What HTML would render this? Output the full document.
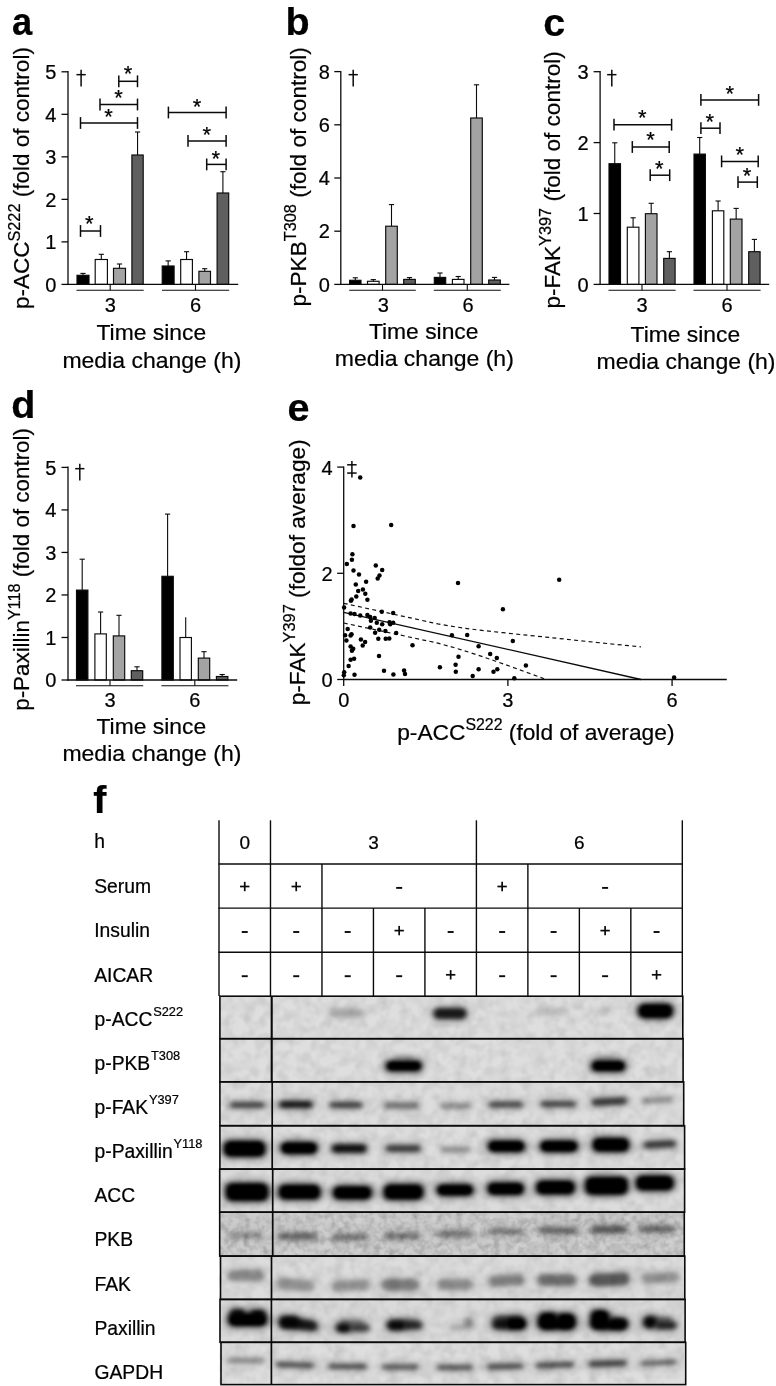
<!DOCTYPE html>
<html><head><meta charset="utf-8"><title>figure</title>
<style>html,body{margin:0;padding:0;background:#fff;}svg{display:block;will-change:transform;}text{font-family:"Liberation Sans",sans-serif;fill:#000;stroke:#000;stroke-width:0.22px;}</style>
</head><body>
<svg width="776" height="1386" viewBox="0 0 776 1386">
<defs>
<filter id="b1" x="-30%" y="-100%" width="160%" height="300%"><feGaussianBlur stdDeviation="1.8 1.5"/></filter>
<filter id="bc" x="-40%" y="-150%" width="180%" height="400%"><feGaussianBlur stdDeviation="2.6 2.0"/></filter>
<filter id="bh" x="-50%" y="-200%" width="200%" height="500%"><feGaussianBlur stdDeviation="4.2 3.6"/></filter>
<filter id="noise" x="0" y="0" width="100%" height="100%"><feTurbulence type="fractalNoise" baseFrequency="0.09" numOctaves="2" seed="7" result="n"/><feColorMatrix in="n" type="matrix" values="0 0 0 0 0.45  0 0 0 0 0.45  0 0 0 0 0.45  0.55 0.55 0.55 0 -0.68"/></filter>
<filter id="noise2" x="0" y="0" width="100%" height="100%"><feTurbulence type="fractalNoise" baseFrequency="0.16" numOctaves="2" seed="11" result="n"/><feColorMatrix in="n" type="matrix" values="0 0 0 0 0.3  0 0 0 0 0.3  0 0 0 0 0.3  0.7 0.7 0.7 0 -0.88"/></filter>
</defs>
<rect width="776" height="1386" fill="#fff"/>
<text x="12.00" y="35.30" font-size="39.5" text-anchor="start" font-weight="bold" textLength="20.2" lengthAdjust="spacingAndGlyphs">a</text>
<text x="285.50" y="35.30" font-size="39.5" text-anchor="start" font-weight="bold" >b</text>
<text x="543.30" y="35.50" font-size="39.5" text-anchor="start" font-weight="bold" >c</text>
<text x="11.20" y="417.80" font-size="39.5" text-anchor="start" font-weight="bold" >d</text>
<text x="287.50" y="420.60" font-size="39.5" text-anchor="start" font-weight="bold" >e</text>
<text x="93.20" y="812.50" font-size="39.5" text-anchor="start" font-weight="bold" >f</text>
<line x1="83.00" y1="273.40" x2="83.00" y2="275.30" stroke="#0a0a0a" stroke-width="1.1" />
<line x1="80.40" y1="273.40" x2="85.60" y2="273.40" stroke="#0a0a0a" stroke-width="1.1" />
<rect x="77.00" y="275.30" width="12.00" height="9.10" fill="#000" stroke="#0a0a0a" stroke-width="1.15"/>
<line x1="101.30" y1="254.30" x2="101.30" y2="259.50" stroke="#0a0a0a" stroke-width="1.1" />
<line x1="98.70" y1="254.30" x2="103.90" y2="254.30" stroke="#0a0a0a" stroke-width="1.1" />
<rect x="95.20" y="259.50" width="12.20" height="24.90" fill="#fff" stroke="#0a0a0a" stroke-width="1.15"/>
<line x1="119.50" y1="264.00" x2="119.50" y2="268.30" stroke="#0a0a0a" stroke-width="1.1" />
<line x1="116.90" y1="264.00" x2="122.10" y2="264.00" stroke="#0a0a0a" stroke-width="1.1" />
<rect x="113.50" y="268.30" width="12.00" height="16.10" fill="#a3a3a3" stroke="#0a0a0a" stroke-width="1.15"/>
<line x1="137.55" y1="132.00" x2="137.55" y2="155.00" stroke="#0a0a0a" stroke-width="1.1" />
<line x1="134.95" y1="132.00" x2="140.15" y2="132.00" stroke="#0a0a0a" stroke-width="1.1" />
<rect x="131.90" y="155.00" width="11.30" height="129.40" fill="#5f5f5f" stroke="#0a0a0a" stroke-width="1.15"/>
<line x1="168.15" y1="260.90" x2="168.15" y2="266.00" stroke="#0a0a0a" stroke-width="1.1" />
<line x1="165.55" y1="260.90" x2="170.75" y2="260.90" stroke="#0a0a0a" stroke-width="1.1" />
<rect x="162.20" y="266.00" width="11.90" height="18.40" fill="#000" stroke="#0a0a0a" stroke-width="1.15"/>
<line x1="186.55" y1="251.70" x2="186.55" y2="259.50" stroke="#0a0a0a" stroke-width="1.1" />
<line x1="183.95" y1="251.70" x2="189.15" y2="251.70" stroke="#0a0a0a" stroke-width="1.1" />
<rect x="180.70" y="259.50" width="11.70" height="24.90" fill="#fff" stroke="#0a0a0a" stroke-width="1.15"/>
<line x1="204.70" y1="268.70" x2="204.70" y2="271.30" stroke="#0a0a0a" stroke-width="1.1" />
<line x1="202.10" y1="268.70" x2="207.30" y2="268.70" stroke="#0a0a0a" stroke-width="1.1" />
<rect x="198.90" y="271.30" width="11.60" height="13.10" fill="#a3a3a3" stroke="#0a0a0a" stroke-width="1.15"/>
<line x1="222.90" y1="171.70" x2="222.90" y2="193.00" stroke="#0a0a0a" stroke-width="1.1" />
<line x1="220.30" y1="171.70" x2="225.50" y2="171.70" stroke="#0a0a0a" stroke-width="1.1" />
<rect x="217.10" y="193.00" width="11.60" height="91.40" fill="#5f5f5f" stroke="#0a0a0a" stroke-width="1.15"/>
<line x1="68.00" y1="71.10" x2="68.00" y2="285.10" stroke="#0a0a0a" stroke-width="1.3" />
<line x1="67.35" y1="284.40" x2="238.20" y2="284.40" stroke="#0a0a0a" stroke-width="1.3" />
<line x1="61.50" y1="284.40" x2="68.00" y2="284.40" stroke="#0a0a0a" stroke-width="1.3" />
<text x="56.40" y="291.60" font-size="20" text-anchor="end" font-weight="normal" >0</text>
<line x1="61.50" y1="241.88" x2="68.00" y2="241.88" stroke="#0a0a0a" stroke-width="1.3" />
<text x="56.40" y="249.08" font-size="20" text-anchor="end" font-weight="normal" >1</text>
<line x1="61.50" y1="199.36" x2="68.00" y2="199.36" stroke="#0a0a0a" stroke-width="1.3" />
<text x="56.40" y="206.56" font-size="20" text-anchor="end" font-weight="normal" >2</text>
<line x1="61.50" y1="156.84" x2="68.00" y2="156.84" stroke="#0a0a0a" stroke-width="1.3" />
<text x="56.40" y="164.04" font-size="20" text-anchor="end" font-weight="normal" >3</text>
<line x1="61.50" y1="114.32" x2="68.00" y2="114.32" stroke="#0a0a0a" stroke-width="1.3" />
<text x="56.40" y="121.52" font-size="20" text-anchor="end" font-weight="normal" >4</text>
<line x1="61.50" y1="71.80" x2="68.00" y2="71.80" stroke="#0a0a0a" stroke-width="1.3" />
<text x="56.40" y="79.00" font-size="20" text-anchor="end" font-weight="normal" >5</text>
<line x1="76.50" y1="290.20" x2="143.70" y2="290.20" stroke="#0a0a0a" stroke-width="1.1" />
<line x1="110.20" y1="284.40" x2="110.20" y2="290.20" stroke="#0a0a0a" stroke-width="1.1" />
<text x="110.20" y="311.60" font-size="20" text-anchor="middle" font-weight="normal" >3</text>
<line x1="162.00" y1="290.20" x2="229.20" y2="290.20" stroke="#0a0a0a" stroke-width="1.1" />
<line x1="195.50" y1="284.40" x2="195.50" y2="290.20" stroke="#0a0a0a" stroke-width="1.1" />
<text x="195.50" y="311.60" font-size="20" text-anchor="middle" font-weight="normal" >6</text>
<text x="151.30" y="340.30" font-size="22.4" text-anchor="middle" font-weight="normal" textLength="109.6" lengthAdjust="spacingAndGlyphs">Time since</text>
<text x="151.90" y="367.60" font-size="22.4" text-anchor="middle" font-weight="normal" textLength="179" lengthAdjust="spacingAndGlyphs">media change (h)</text>
<line x1="81.10" y1="69.80" x2="81.10" y2="86.60" stroke="#0a0a0a" stroke-width="1.5" />
<line x1="76.45" y1="74.67" x2="85.75" y2="74.67" stroke="#0a0a0a" stroke-width="1.5" />
<line x1="118.80" y1="81.30" x2="137.50" y2="81.30" stroke="#0a0a0a" stroke-width="1.5" />
<line x1="118.80" y1="75.40" x2="118.80" y2="87.20" stroke="#0a0a0a" stroke-width="1.5" />
<line x1="137.50" y1="75.40" x2="137.50" y2="87.20" stroke="#0a0a0a" stroke-width="1.5" />
<text x="128.10" y="81.36" font-size="22" text-anchor="middle" font-weight="normal" >*</text>
<line x1="100.00" y1="104.50" x2="137.50" y2="104.50" stroke="#0a0a0a" stroke-width="1.5" />
<line x1="100.00" y1="98.60" x2="100.00" y2="110.40" stroke="#0a0a0a" stroke-width="1.5" />
<line x1="137.50" y1="98.60" x2="137.50" y2="110.40" stroke="#0a0a0a" stroke-width="1.5" />
<text x="118.60" y="105.36" font-size="22" text-anchor="middle" font-weight="normal" >*</text>
<line x1="80.50" y1="123.00" x2="137.50" y2="123.00" stroke="#0a0a0a" stroke-width="1.5" />
<line x1="80.50" y1="117.10" x2="80.50" y2="128.90" stroke="#0a0a0a" stroke-width="1.5" />
<line x1="137.50" y1="117.10" x2="137.50" y2="128.90" stroke="#0a0a0a" stroke-width="1.5" />
<text x="108.60" y="124.16" font-size="22" text-anchor="middle" font-weight="normal" >*</text>
<line x1="80.50" y1="231.00" x2="100.50" y2="231.00" stroke="#0a0a0a" stroke-width="1.5" />
<line x1="80.50" y1="225.10" x2="80.50" y2="236.90" stroke="#0a0a0a" stroke-width="1.5" />
<line x1="100.50" y1="225.10" x2="100.50" y2="236.90" stroke="#0a0a0a" stroke-width="1.5" />
<text x="89.30" y="230.86" font-size="22" text-anchor="middle" font-weight="normal" >*</text>
<line x1="168.40" y1="112.50" x2="226.10" y2="112.50" stroke="#0a0a0a" stroke-width="1.5" />
<line x1="168.40" y1="106.60" x2="168.40" y2="118.40" stroke="#0a0a0a" stroke-width="1.5" />
<line x1="226.10" y1="106.60" x2="226.10" y2="118.40" stroke="#0a0a0a" stroke-width="1.5" />
<text x="197.00" y="113.76" font-size="22" text-anchor="middle" font-weight="normal" >*</text>
<line x1="188.00" y1="140.90" x2="226.10" y2="140.90" stroke="#0a0a0a" stroke-width="1.5" />
<line x1="188.00" y1="135.00" x2="188.00" y2="146.80" stroke="#0a0a0a" stroke-width="1.5" />
<line x1="226.10" y1="135.00" x2="226.10" y2="146.80" stroke="#0a0a0a" stroke-width="1.5" />
<text x="206.80" y="142.36" font-size="22" text-anchor="middle" font-weight="normal" >*</text>
<line x1="206.70" y1="164.40" x2="226.10" y2="164.40" stroke="#0a0a0a" stroke-width="1.5" />
<line x1="206.70" y1="158.50" x2="206.70" y2="170.30" stroke="#0a0a0a" stroke-width="1.5" />
<line x1="226.10" y1="158.50" x2="226.10" y2="170.30" stroke="#0a0a0a" stroke-width="1.5" />
<text x="215.80" y="165.76" font-size="22" text-anchor="middle" font-weight="normal" >*</text>
<text transform="translate(28.90,309.10) rotate(-90)" font-size="22.4" text-anchor="start" textLength="262.0" lengthAdjust="spacingAndGlyphs">p-ACC<tspan font-size="16.2" dy="-9.4">S222</tspan><tspan dy="9.4"> (fold of control)</tspan></text>
<line x1="355.30" y1="277.80" x2="355.30" y2="280.30" stroke="#0a0a0a" stroke-width="1.1" />
<line x1="352.70" y1="277.80" x2="357.90" y2="277.80" stroke="#0a0a0a" stroke-width="1.1" />
<rect x="349.60" y="280.30" width="11.40" height="4.10" fill="#000" stroke="#0a0a0a" stroke-width="1.15"/>
<line x1="373.30" y1="279.60" x2="373.30" y2="281.30" stroke="#0a0a0a" stroke-width="1.1" />
<line x1="370.70" y1="279.60" x2="375.90" y2="279.60" stroke="#0a0a0a" stroke-width="1.1" />
<rect x="367.50" y="281.30" width="11.60" height="3.10" fill="#fff" stroke="#0a0a0a" stroke-width="1.15"/>
<line x1="391.50" y1="204.60" x2="391.50" y2="226.20" stroke="#0a0a0a" stroke-width="1.1" />
<line x1="388.90" y1="204.60" x2="394.10" y2="204.60" stroke="#0a0a0a" stroke-width="1.1" />
<rect x="385.70" y="226.20" width="11.60" height="58.20" fill="#a3a3a3" stroke="#0a0a0a" stroke-width="1.15"/>
<line x1="409.50" y1="277.60" x2="409.50" y2="279.40" stroke="#0a0a0a" stroke-width="1.1" />
<line x1="406.90" y1="277.60" x2="412.10" y2="277.60" stroke="#0a0a0a" stroke-width="1.1" />
<rect x="403.70" y="279.40" width="11.60" height="5.00" fill="#5f5f5f" stroke="#0a0a0a" stroke-width="1.15"/>
<line x1="440.00" y1="273.00" x2="440.00" y2="277.40" stroke="#0a0a0a" stroke-width="1.1" />
<line x1="437.40" y1="273.00" x2="442.60" y2="273.00" stroke="#0a0a0a" stroke-width="1.1" />
<rect x="434.30" y="277.40" width="11.40" height="7.00" fill="#000" stroke="#0a0a0a" stroke-width="1.15"/>
<line x1="458.20" y1="276.50" x2="458.20" y2="279.40" stroke="#0a0a0a" stroke-width="1.1" />
<line x1="455.60" y1="276.50" x2="460.80" y2="276.50" stroke="#0a0a0a" stroke-width="1.1" />
<rect x="452.40" y="279.40" width="11.60" height="5.00" fill="#fff" stroke="#0a0a0a" stroke-width="1.15"/>
<line x1="476.50" y1="84.80" x2="476.50" y2="118.00" stroke="#0a0a0a" stroke-width="1.1" />
<line x1="473.90" y1="84.80" x2="479.10" y2="84.80" stroke="#0a0a0a" stroke-width="1.1" />
<rect x="470.70" y="118.00" width="11.60" height="166.40" fill="#a3a3a3" stroke="#0a0a0a" stroke-width="1.15"/>
<line x1="494.50" y1="277.40" x2="494.50" y2="280.00" stroke="#0a0a0a" stroke-width="1.1" />
<line x1="491.90" y1="277.40" x2="497.10" y2="277.40" stroke="#0a0a0a" stroke-width="1.1" />
<rect x="488.70" y="280.00" width="11.60" height="4.40" fill="#5f5f5f" stroke="#0a0a0a" stroke-width="1.15"/>
<line x1="340.80" y1="71.00" x2="340.80" y2="285.10" stroke="#0a0a0a" stroke-width="1.3" />
<line x1="340.15" y1="284.40" x2="509.40" y2="284.40" stroke="#0a0a0a" stroke-width="1.3" />
<line x1="334.30" y1="284.40" x2="340.80" y2="284.40" stroke="#0a0a0a" stroke-width="1.3" />
<text x="329.90" y="291.60" font-size="20" text-anchor="end" font-weight="normal" >0</text>
<line x1="334.30" y1="231.20" x2="340.80" y2="231.20" stroke="#0a0a0a" stroke-width="1.3" />
<text x="329.90" y="238.40" font-size="20" text-anchor="end" font-weight="normal" >2</text>
<line x1="334.30" y1="178.00" x2="340.80" y2="178.00" stroke="#0a0a0a" stroke-width="1.3" />
<text x="329.90" y="185.20" font-size="20" text-anchor="end" font-weight="normal" >4</text>
<line x1="334.30" y1="124.80" x2="340.80" y2="124.80" stroke="#0a0a0a" stroke-width="1.3" />
<text x="329.90" y="132.00" font-size="20" text-anchor="end" font-weight="normal" >6</text>
<line x1="334.30" y1="71.60" x2="340.80" y2="71.60" stroke="#0a0a0a" stroke-width="1.3" />
<text x="329.90" y="78.80" font-size="20" text-anchor="end" font-weight="normal" >8</text>
<line x1="349.20" y1="290.20" x2="415.80" y2="290.20" stroke="#0a0a0a" stroke-width="1.1" />
<line x1="382.50" y1="284.40" x2="382.50" y2="290.20" stroke="#0a0a0a" stroke-width="1.1" />
<text x="383.20" y="311.60" font-size="20" text-anchor="middle" font-weight="normal" >3</text>
<line x1="433.80" y1="290.20" x2="500.80" y2="290.20" stroke="#0a0a0a" stroke-width="1.1" />
<line x1="467.30" y1="284.40" x2="467.30" y2="290.20" stroke="#0a0a0a" stroke-width="1.1" />
<text x="468.00" y="311.60" font-size="20" text-anchor="middle" font-weight="normal" >6</text>
<text x="423.70" y="339.10" font-size="22.4" text-anchor="middle" font-weight="normal" textLength="109.6" lengthAdjust="spacingAndGlyphs">Time since</text>
<text x="424.30" y="366.40" font-size="22.4" text-anchor="middle" font-weight="normal" textLength="179" lengthAdjust="spacingAndGlyphs">media change (h)</text>
<line x1="353.20" y1="69.80" x2="353.20" y2="86.60" stroke="#0a0a0a" stroke-width="1.5" />
<line x1="348.55" y1="74.67" x2="357.85" y2="74.67" stroke="#0a0a0a" stroke-width="1.5" />
<text transform="translate(305.80,306.60) rotate(-90)" font-size="22.4" text-anchor="start" textLength="259.5" lengthAdjust="spacingAndGlyphs">p-PKB<tspan font-size="16.2" dy="-9.4">T308</tspan><tspan dy="9.4"> (fold of control)</tspan></text>
<line x1="614.75" y1="142.80" x2="614.75" y2="163.70" stroke="#0a0a0a" stroke-width="1.1" />
<line x1="612.15" y1="142.80" x2="617.35" y2="142.80" stroke="#0a0a0a" stroke-width="1.1" />
<rect x="609.00" y="163.70" width="11.50" height="120.70" fill="#000" stroke="#0a0a0a" stroke-width="1.15"/>
<line x1="633.10" y1="217.80" x2="633.10" y2="227.20" stroke="#0a0a0a" stroke-width="1.1" />
<line x1="630.50" y1="217.80" x2="635.70" y2="217.80" stroke="#0a0a0a" stroke-width="1.1" />
<rect x="627.30" y="227.20" width="11.60" height="57.20" fill="#fff" stroke="#0a0a0a" stroke-width="1.15"/>
<line x1="651.20" y1="203.30" x2="651.20" y2="213.70" stroke="#0a0a0a" stroke-width="1.1" />
<line x1="648.60" y1="203.30" x2="653.80" y2="203.30" stroke="#0a0a0a" stroke-width="1.1" />
<rect x="645.40" y="213.70" width="11.60" height="70.70" fill="#a3a3a3" stroke="#0a0a0a" stroke-width="1.15"/>
<line x1="669.40" y1="251.70" x2="669.40" y2="258.40" stroke="#0a0a0a" stroke-width="1.1" />
<line x1="666.80" y1="251.70" x2="672.00" y2="251.70" stroke="#0a0a0a" stroke-width="1.1" />
<rect x="663.70" y="258.40" width="11.40" height="26.00" fill="#5f5f5f" stroke="#0a0a0a" stroke-width="1.15"/>
<line x1="699.70" y1="137.50" x2="699.70" y2="154.10" stroke="#0a0a0a" stroke-width="1.1" />
<line x1="697.10" y1="137.50" x2="702.30" y2="137.50" stroke="#0a0a0a" stroke-width="1.1" />
<rect x="694.00" y="154.10" width="11.40" height="130.30" fill="#000" stroke="#0a0a0a" stroke-width="1.15"/>
<line x1="718.10" y1="201.00" x2="718.10" y2="210.80" stroke="#0a0a0a" stroke-width="1.1" />
<line x1="715.50" y1="201.00" x2="720.70" y2="201.00" stroke="#0a0a0a" stroke-width="1.1" />
<rect x="712.40" y="210.80" width="11.40" height="73.60" fill="#fff" stroke="#0a0a0a" stroke-width="1.15"/>
<line x1="736.15" y1="208.40" x2="736.15" y2="219.10" stroke="#0a0a0a" stroke-width="1.1" />
<line x1="733.55" y1="208.40" x2="738.75" y2="208.40" stroke="#0a0a0a" stroke-width="1.1" />
<rect x="730.30" y="219.10" width="11.70" height="65.30" fill="#a3a3a3" stroke="#0a0a0a" stroke-width="1.15"/>
<line x1="754.40" y1="239.40" x2="754.40" y2="251.70" stroke="#0a0a0a" stroke-width="1.1" />
<line x1="751.80" y1="239.40" x2="757.00" y2="239.40" stroke="#0a0a0a" stroke-width="1.1" />
<rect x="748.70" y="251.70" width="11.40" height="32.70" fill="#5f5f5f" stroke="#0a0a0a" stroke-width="1.15"/>
<line x1="600.10" y1="71.00" x2="600.10" y2="285.10" stroke="#0a0a0a" stroke-width="1.3" />
<line x1="599.45" y1="284.40" x2="769.20" y2="284.40" stroke="#0a0a0a" stroke-width="1.3" />
<line x1="593.60" y1="284.40" x2="600.10" y2="284.40" stroke="#0a0a0a" stroke-width="1.3" />
<text x="588.50" y="291.60" font-size="20" text-anchor="end" font-weight="normal" >0</text>
<line x1="593.60" y1="213.50" x2="600.10" y2="213.50" stroke="#0a0a0a" stroke-width="1.3" />
<text x="588.50" y="220.70" font-size="20" text-anchor="end" font-weight="normal" >1</text>
<line x1="593.60" y1="142.60" x2="600.10" y2="142.60" stroke="#0a0a0a" stroke-width="1.3" />
<text x="588.50" y="149.80" font-size="20" text-anchor="end" font-weight="normal" >2</text>
<line x1="593.60" y1="71.70" x2="600.10" y2="71.70" stroke="#0a0a0a" stroke-width="1.3" />
<text x="588.50" y="78.90" font-size="20" text-anchor="end" font-weight="normal" >3</text>
<line x1="608.50" y1="290.20" x2="675.60" y2="290.20" stroke="#0a0a0a" stroke-width="1.1" />
<line x1="642.00" y1="284.40" x2="642.00" y2="290.20" stroke="#0a0a0a" stroke-width="1.1" />
<text x="642.00" y="311.60" font-size="20" text-anchor="middle" font-weight="normal" >3</text>
<line x1="693.50" y1="290.20" x2="760.60" y2="290.20" stroke="#0a0a0a" stroke-width="1.1" />
<line x1="727.00" y1="284.40" x2="727.00" y2="290.20" stroke="#0a0a0a" stroke-width="1.1" />
<text x="727.00" y="311.60" font-size="20" text-anchor="middle" font-weight="normal" >6</text>
<text x="685.40" y="341.50" font-size="22.4" text-anchor="middle" font-weight="normal" textLength="109.6" lengthAdjust="spacingAndGlyphs">Time since</text>
<text x="686.00" y="368.80" font-size="22.4" text-anchor="middle" font-weight="normal" textLength="179" lengthAdjust="spacingAndGlyphs">media change (h)</text>
<line x1="611.80" y1="69.80" x2="611.80" y2="86.60" stroke="#0a0a0a" stroke-width="1.5" />
<line x1="607.15" y1="74.67" x2="616.45" y2="74.67" stroke="#0a0a0a" stroke-width="1.5" />
<line x1="614.00" y1="124.70" x2="671.60" y2="124.70" stroke="#0a0a0a" stroke-width="1.5" />
<line x1="614.00" y1="118.80" x2="614.00" y2="130.60" stroke="#0a0a0a" stroke-width="1.5" />
<line x1="671.60" y1="118.80" x2="671.60" y2="130.60" stroke="#0a0a0a" stroke-width="1.5" />
<text x="642.40" y="124.96" font-size="22" text-anchor="middle" font-weight="normal" >*</text>
<line x1="632.30" y1="147.00" x2="669.20" y2="147.00" stroke="#0a0a0a" stroke-width="1.5" />
<line x1="632.30" y1="141.10" x2="632.30" y2="152.90" stroke="#0a0a0a" stroke-width="1.5" />
<line x1="669.20" y1="141.10" x2="669.20" y2="152.90" stroke="#0a0a0a" stroke-width="1.5" />
<text x="650.50" y="147.36" font-size="22" text-anchor="middle" font-weight="normal" >*</text>
<line x1="650.20" y1="175.20" x2="669.70" y2="175.20" stroke="#0a0a0a" stroke-width="1.5" />
<line x1="650.20" y1="169.30" x2="650.20" y2="181.10" stroke="#0a0a0a" stroke-width="1.5" />
<line x1="669.70" y1="169.30" x2="669.70" y2="181.10" stroke="#0a0a0a" stroke-width="1.5" />
<text x="659.20" y="175.66" font-size="22" text-anchor="middle" font-weight="normal" >*</text>
<line x1="700.90" y1="99.90" x2="758.60" y2="99.90" stroke="#0a0a0a" stroke-width="1.5" />
<line x1="700.90" y1="94.00" x2="700.90" y2="105.80" stroke="#0a0a0a" stroke-width="1.5" />
<line x1="758.60" y1="94.00" x2="758.60" y2="105.80" stroke="#0a0a0a" stroke-width="1.5" />
<text x="729.70" y="100.66" font-size="22" text-anchor="middle" font-weight="normal" >*</text>
<line x1="700.90" y1="128.20" x2="720.00" y2="128.20" stroke="#0a0a0a" stroke-width="1.5" />
<line x1="700.90" y1="122.30" x2="700.90" y2="134.10" stroke="#0a0a0a" stroke-width="1.5" />
<line x1="720.00" y1="122.30" x2="720.00" y2="134.10" stroke="#0a0a0a" stroke-width="1.5" />
<text x="709.80" y="128.66" font-size="22" text-anchor="middle" font-weight="normal" >*</text>
<line x1="721.60" y1="161.40" x2="758.20" y2="161.40" stroke="#0a0a0a" stroke-width="1.5" />
<line x1="721.60" y1="155.50" x2="721.60" y2="167.30" stroke="#0a0a0a" stroke-width="1.5" />
<line x1="758.20" y1="155.50" x2="758.20" y2="167.30" stroke="#0a0a0a" stroke-width="1.5" />
<text x="739.70" y="162.36" font-size="22" text-anchor="middle" font-weight="normal" >*</text>
<line x1="738.00" y1="182.10" x2="757.30" y2="182.10" stroke="#0a0a0a" stroke-width="1.5" />
<line x1="738.00" y1="176.20" x2="738.00" y2="188.00" stroke="#0a0a0a" stroke-width="1.5" />
<line x1="757.30" y1="176.20" x2="757.30" y2="188.00" stroke="#0a0a0a" stroke-width="1.5" />
<text x="747.10" y="182.96" font-size="22" text-anchor="middle" font-weight="normal" >*</text>
<text transform="translate(560.10,308.60) rotate(-90)" font-size="22.4" text-anchor="start" textLength="257.4" lengthAdjust="spacingAndGlyphs">p-FAK<tspan font-size="16.2" dy="-9.4">Y397</tspan><tspan dy="9.4"> (fold of control)</tspan></text>
<line x1="82.20" y1="559.20" x2="82.20" y2="590.10" stroke="#0a0a0a" stroke-width="1.1" />
<line x1="79.60" y1="559.20" x2="84.80" y2="559.20" stroke="#0a0a0a" stroke-width="1.1" />
<rect x="76.50" y="590.10" width="11.40" height="89.90" fill="#000" stroke="#0a0a0a" stroke-width="1.15"/>
<line x1="100.60" y1="612.00" x2="100.60" y2="633.90" stroke="#0a0a0a" stroke-width="1.1" />
<line x1="98.00" y1="612.00" x2="103.20" y2="612.00" stroke="#0a0a0a" stroke-width="1.1" />
<rect x="94.90" y="633.90" width="11.40" height="46.10" fill="#fff" stroke="#0a0a0a" stroke-width="1.15"/>
<line x1="119.00" y1="615.30" x2="119.00" y2="635.90" stroke="#0a0a0a" stroke-width="1.1" />
<line x1="116.40" y1="615.30" x2="121.60" y2="615.30" stroke="#0a0a0a" stroke-width="1.1" />
<rect x="113.30" y="635.90" width="11.40" height="44.10" fill="#a3a3a3" stroke="#0a0a0a" stroke-width="1.15"/>
<line x1="137.00" y1="666.80" x2="137.00" y2="670.70" stroke="#0a0a0a" stroke-width="1.1" />
<line x1="134.40" y1="666.80" x2="139.60" y2="666.80" stroke="#0a0a0a" stroke-width="1.1" />
<rect x="131.30" y="670.70" width="11.40" height="9.30" fill="#5f5f5f" stroke="#0a0a0a" stroke-width="1.15"/>
<line x1="167.60" y1="514.10" x2="167.60" y2="576.30" stroke="#0a0a0a" stroke-width="1.1" />
<line x1="165.00" y1="514.10" x2="170.20" y2="514.10" stroke="#0a0a0a" stroke-width="1.1" />
<rect x="161.90" y="576.30" width="11.40" height="103.70" fill="#000" stroke="#0a0a0a" stroke-width="1.15"/>
<line x1="185.70" y1="617.20" x2="185.70" y2="637.50" stroke="#0a0a0a" stroke-width="1.1" />
<rect x="180.00" y="637.50" width="11.40" height="42.50" fill="#fff" stroke="#0a0a0a" stroke-width="1.15"/>
<line x1="204.00" y1="651.70" x2="204.00" y2="658.10" stroke="#0a0a0a" stroke-width="1.1" />
<line x1="201.40" y1="651.70" x2="206.60" y2="651.70" stroke="#0a0a0a" stroke-width="1.1" />
<rect x="198.30" y="658.10" width="11.40" height="21.90" fill="#a3a3a3" stroke="#0a0a0a" stroke-width="1.15"/>
<line x1="222.15" y1="674.50" x2="222.15" y2="676.50" stroke="#0a0a0a" stroke-width="1.1" />
<line x1="219.55" y1="674.50" x2="224.75" y2="674.50" stroke="#0a0a0a" stroke-width="1.1" />
<rect x="216.40" y="676.50" width="11.50" height="3.50" fill="#5f5f5f" stroke="#0a0a0a" stroke-width="1.15"/>
<line x1="68.00" y1="466.60" x2="68.00" y2="680.70" stroke="#0a0a0a" stroke-width="1.3" />
<line x1="67.35" y1="680.00" x2="237.20" y2="680.00" stroke="#0a0a0a" stroke-width="1.3" />
<line x1="61.50" y1="680.00" x2="68.00" y2="680.00" stroke="#0a0a0a" stroke-width="1.3" />
<text x="56.40" y="687.20" font-size="20" text-anchor="end" font-weight="normal" >0</text>
<line x1="61.50" y1="637.48" x2="68.00" y2="637.48" stroke="#0a0a0a" stroke-width="1.3" />
<text x="56.40" y="644.68" font-size="20" text-anchor="end" font-weight="normal" >1</text>
<line x1="61.50" y1="594.96" x2="68.00" y2="594.96" stroke="#0a0a0a" stroke-width="1.3" />
<text x="56.40" y="602.16" font-size="20" text-anchor="end" font-weight="normal" >2</text>
<line x1="61.50" y1="552.44" x2="68.00" y2="552.44" stroke="#0a0a0a" stroke-width="1.3" />
<text x="56.40" y="559.64" font-size="20" text-anchor="end" font-weight="normal" >3</text>
<line x1="61.50" y1="509.92" x2="68.00" y2="509.92" stroke="#0a0a0a" stroke-width="1.3" />
<text x="56.40" y="517.12" font-size="20" text-anchor="end" font-weight="normal" >4</text>
<line x1="61.50" y1="467.40" x2="68.00" y2="467.40" stroke="#0a0a0a" stroke-width="1.3" />
<text x="56.40" y="474.60" font-size="20" text-anchor="end" font-weight="normal" >5</text>
<line x1="76.00" y1="685.80" x2="143.20" y2="685.80" stroke="#0a0a0a" stroke-width="1.1" />
<line x1="110.00" y1="680.00" x2="110.00" y2="685.80" stroke="#0a0a0a" stroke-width="1.1" />
<text x="110.00" y="707.20" font-size="20" text-anchor="middle" font-weight="normal" >3</text>
<line x1="161.40" y1="685.80" x2="228.40" y2="685.80" stroke="#0a0a0a" stroke-width="1.1" />
<line x1="194.80" y1="680.00" x2="194.80" y2="685.80" stroke="#0a0a0a" stroke-width="1.1" />
<text x="194.80" y="707.20" font-size="20" text-anchor="middle" font-weight="normal" >6</text>
<text x="151.30" y="733.70" font-size="22.4" text-anchor="middle" font-weight="normal" textLength="109.6" lengthAdjust="spacingAndGlyphs">Time since</text>
<text x="151.90" y="761.00" font-size="22.4" text-anchor="middle" font-weight="normal" textLength="179" lengthAdjust="spacingAndGlyphs">media change (h)</text>
<line x1="79.80" y1="463.80" x2="79.80" y2="480.60" stroke="#0a0a0a" stroke-width="1.5" />
<line x1="75.15" y1="468.67" x2="84.45" y2="468.67" stroke="#0a0a0a" stroke-width="1.5" />
<text transform="translate(28.90,710.80) rotate(-90)" font-size="22.4" text-anchor="start" textLength="282.8" lengthAdjust="spacingAndGlyphs">p-Paxillin<tspan font-size="16.2" dy="-9.4">Y118</tspan><tspan dy="9.4"> (fold of control)</tspan></text>
<path d="M343.7,603.3 L398.6,615.3 C420,620 428,621.8 438,623.9 C460,628 480,630.3 503,632.7 C540,636.5 570,639.6 600,642.8 L641,646.9" fill="none" stroke="#111" stroke-width="1.2" stroke-dasharray="4 3.3"/>
<path d="M343.7,623 L420,639.3 C428,641 433,642 438,643.2 C460,649 478,655 495.7,661.2 C515,668 530,673.5 545.5,679.3" fill="none" stroke="#111" stroke-width="1.2" stroke-dasharray="4 3.3"/>
<line x1="343.70" y1="612.30" x2="641.00" y2="679.50" stroke="#0a0a0a" stroke-width="1.3" />
<line x1="343.70" y1="466.40" x2="343.70" y2="680.10" stroke="#0a0a0a" stroke-width="1.3" />
<line x1="343.05" y1="679.50" x2="726.80" y2="679.50" stroke="#0a0a0a" stroke-width="1.3" />
<line x1="337.20" y1="679.50" x2="343.70" y2="679.50" stroke="#0a0a0a" stroke-width="1.3" />
<text x="332.70" y="687.10" font-size="20" text-anchor="end" font-weight="normal" >0</text>
<line x1="337.20" y1="573.30" x2="343.70" y2="573.30" stroke="#0a0a0a" stroke-width="1.3" />
<text x="332.70" y="580.90" font-size="20" text-anchor="end" font-weight="normal" >2</text>
<line x1="337.20" y1="467.10" x2="343.70" y2="467.10" stroke="#0a0a0a" stroke-width="1.3" />
<text x="332.70" y="474.70" font-size="20" text-anchor="end" font-weight="normal" >4</text>
<line x1="343.70" y1="679.50" x2="343.70" y2="685.90" stroke="#0a0a0a" stroke-width="1.3" />
<text x="343.70" y="706.80" font-size="20" text-anchor="middle" font-weight="normal" >0</text>
<line x1="507.89" y1="679.50" x2="507.89" y2="685.90" stroke="#0a0a0a" stroke-width="1.3" />
<text x="507.89" y="706.80" font-size="20" text-anchor="middle" font-weight="normal" >3</text>
<line x1="672.08" y1="679.50" x2="672.08" y2="685.90" stroke="#0a0a0a" stroke-width="1.3" />
<text x="672.08" y="706.80" font-size="20" text-anchor="middle" font-weight="normal" >6</text>
<line x1="351.90" y1="461.00" x2="351.90" y2="477.50" stroke="#0a0a0a" stroke-width="1.5" />
<line x1="347.15" y1="464.80" x2="356.65" y2="464.80" stroke="#0a0a0a" stroke-width="1.5" />
<line x1="347.15" y1="473.05" x2="356.65" y2="473.05" stroke="#0a0a0a" stroke-width="1.5" />
<circle cx="360.2" cy="477.6" r="2.25" fill="#000"/>
<circle cx="353.5" cy="525.9" r="2.25" fill="#000"/>
<circle cx="391.2" cy="525" r="2.25" fill="#000"/>
<circle cx="352.4" cy="554.2" r="2.25" fill="#000"/>
<circle cx="351.9" cy="559.7" r="2.25" fill="#000"/>
<circle cx="346.8" cy="564" r="2.25" fill="#000"/>
<circle cx="375.8" cy="565.5" r="2.25" fill="#000"/>
<circle cx="382.2" cy="570" r="2.25" fill="#000"/>
<circle cx="353.5" cy="570.5" r="2.25" fill="#000"/>
<circle cx="359" cy="574.6" r="2.25" fill="#000"/>
<circle cx="379.5" cy="575.6" r="2.25" fill="#000"/>
<circle cx="377.7" cy="578.5" r="2.25" fill="#000"/>
<circle cx="366.1" cy="581.8" r="2.25" fill="#000"/>
<circle cx="355.8" cy="584.4" r="2.25" fill="#000"/>
<circle cx="362.9" cy="589.5" r="2.25" fill="#000"/>
<circle cx="358.2" cy="591.1" r="2.25" fill="#000"/>
<circle cx="365.3" cy="593.7" r="2.25" fill="#000"/>
<circle cx="356.3" cy="596.5" r="2.25" fill="#000"/>
<circle cx="367.4" cy="599.7" r="2.25" fill="#000"/>
<circle cx="351.6" cy="599.5" r="2.25" fill="#000"/>
<circle cx="350.9" cy="600.8" r="2.25" fill="#000"/>
<circle cx="344.1" cy="607.4" r="2.25" fill="#000"/>
<circle cx="381.8" cy="611.7" r="2.25" fill="#000"/>
<circle cx="393.2" cy="613" r="2.25" fill="#000"/>
<circle cx="350.6" cy="613.6" r="2.25" fill="#000"/>
<circle cx="354.5" cy="613.9" r="2.25" fill="#000"/>
<circle cx="360.2" cy="615.6" r="2.25" fill="#000"/>
<circle cx="367.4" cy="614.9" r="2.25" fill="#000"/>
<circle cx="370.2" cy="616.9" r="2.25" fill="#000"/>
<circle cx="374.7" cy="618.1" r="2.25" fill="#000"/>
<circle cx="370.9" cy="620.7" r="2.25" fill="#000"/>
<circle cx="376.8" cy="622.8" r="2.25" fill="#000"/>
<circle cx="382.2" cy="624.2" r="2.25" fill="#000"/>
<circle cx="389.5" cy="622.3" r="2.25" fill="#000"/>
<circle cx="390.2" cy="624.3" r="2.25" fill="#000"/>
<circle cx="393.2" cy="622.7" r="2.25" fill="#000"/>
<circle cx="370.2" cy="627.6" r="2.25" fill="#000"/>
<circle cx="347.7" cy="628.9" r="2.25" fill="#000"/>
<circle cx="379.2" cy="629.8" r="2.25" fill="#000"/>
<circle cx="385.4" cy="631.1" r="2.25" fill="#000"/>
<circle cx="375.1" cy="632.7" r="2.25" fill="#000"/>
<circle cx="396.2" cy="633" r="2.25" fill="#000"/>
<circle cx="351.5" cy="634.3" r="2.25" fill="#000"/>
<circle cx="345.1" cy="635.2" r="2.25" fill="#000"/>
<circle cx="350.6" cy="635.6" r="2.25" fill="#000"/>
<circle cx="378.3" cy="638.8" r="2.25" fill="#000"/>
<circle cx="385.7" cy="638.8" r="2.25" fill="#000"/>
<circle cx="389.3" cy="638.5" r="2.25" fill="#000"/>
<circle cx="360.9" cy="639.5" r="2.25" fill="#000"/>
<circle cx="346.4" cy="640.4" r="2.25" fill="#000"/>
<circle cx="365.1" cy="642.1" r="2.25" fill="#000"/>
<circle cx="362.7" cy="645.5" r="2.25" fill="#000"/>
<circle cx="412.5" cy="645.3" r="2.25" fill="#000"/>
<circle cx="350.6" cy="646.6" r="2.25" fill="#000"/>
<circle cx="353.2" cy="648.8" r="2.25" fill="#000"/>
<circle cx="351.9" cy="650.7" r="2.25" fill="#000"/>
<circle cx="379" cy="655.9" r="2.25" fill="#000"/>
<circle cx="354.1" cy="658.8" r="2.25" fill="#000"/>
<circle cx="350.6" cy="659.7" r="2.25" fill="#000"/>
<circle cx="348.6" cy="665.9" r="2.25" fill="#000"/>
<circle cx="384" cy="670.7" r="2.25" fill="#000"/>
<circle cx="404.1" cy="670.4" r="2.25" fill="#000"/>
<circle cx="344.2" cy="672.3" r="2.25" fill="#000"/>
<circle cx="405" cy="674" r="2.25" fill="#000"/>
<circle cx="393.4" cy="674.5" r="2.25" fill="#000"/>
<circle cx="354.5" cy="674.7" r="2.25" fill="#000"/>
<circle cx="343.8" cy="675.3" r="2.25" fill="#000"/>
<circle cx="458" cy="582.9" r="2.25" fill="#000"/>
<circle cx="559.2" cy="579.7" r="2.25" fill="#000"/>
<circle cx="502.9" cy="609.2" r="2.25" fill="#000"/>
<circle cx="451.9" cy="635.3" r="2.25" fill="#000"/>
<circle cx="467.2" cy="635.1" r="2.25" fill="#000"/>
<circle cx="512.8" cy="641" r="2.25" fill="#000"/>
<circle cx="478.6" cy="646.3" r="2.25" fill="#000"/>
<circle cx="490.2" cy="653.9" r="2.25" fill="#000"/>
<circle cx="458.5" cy="656.8" r="2.25" fill="#000"/>
<circle cx="496.8" cy="657.9" r="2.25" fill="#000"/>
<circle cx="455.6" cy="664.7" r="2.25" fill="#000"/>
<circle cx="525.9" cy="665.5" r="2.25" fill="#000"/>
<circle cx="439.9" cy="667.3" r="2.25" fill="#000"/>
<circle cx="478.6" cy="669.3" r="2.25" fill="#000"/>
<circle cx="497.3" cy="669.3" r="2.25" fill="#000"/>
<circle cx="455.8" cy="671.7" r="2.25" fill="#000"/>
<circle cx="493.5" cy="671.7" r="2.25" fill="#000"/>
<circle cx="472.7" cy="676" r="2.25" fill="#000"/>
<circle cx="514.3" cy="678.2" r="2.25" fill="#000"/>
<circle cx="674.1" cy="677.6" r="2.25" fill="#000"/>
<text transform="translate(304.70,705.30) rotate(-90)" font-size="22.4" text-anchor="start" textLength="265.9" lengthAdjust="spacingAndGlyphs">p-FAK<tspan font-size="16.2" dy="-9.4">Y397</tspan><tspan dy="9.4"> (foldof average)</tspan></text>
<text x="397.2" y="740" font-size="22.4" textLength="277.3" lengthAdjust="spacingAndGlyphs">p-ACC<tspan font-size="15.6" dy="-9.6">S222</tspan><tspan dy="9.6"> (fold of average)</tspan></text>
<line x1="218.40" y1="864.00" x2="682.92" y2="864.00" stroke="#0a0a0a" stroke-width="1.4" />
<line x1="218.40" y1="908.10" x2="682.92" y2="908.10" stroke="#0a0a0a" stroke-width="1.4" />
<line x1="218.40" y1="952.30" x2="682.92" y2="952.30" stroke="#0a0a0a" stroke-width="1.4" />
<line x1="219.00" y1="820.30" x2="219.00" y2="864.00" stroke="#0a0a0a" stroke-width="1.4" />
<line x1="270.48" y1="820.30" x2="270.48" y2="864.00" stroke="#0a0a0a" stroke-width="1.4" />
<line x1="476.40" y1="820.30" x2="476.40" y2="864.00" stroke="#0a0a0a" stroke-width="1.4" />
<line x1="682.32" y1="820.30" x2="682.32" y2="864.00" stroke="#0a0a0a" stroke-width="1.4" />
<line x1="219.00" y1="864.00" x2="219.00" y2="908.10" stroke="#0a0a0a" stroke-width="1.4" />
<line x1="270.48" y1="864.00" x2="270.48" y2="908.10" stroke="#0a0a0a" stroke-width="1.4" />
<line x1="321.96" y1="864.00" x2="321.96" y2="908.10" stroke="#0a0a0a" stroke-width="1.4" />
<line x1="476.40" y1="864.00" x2="476.40" y2="908.10" stroke="#0a0a0a" stroke-width="1.4" />
<line x1="527.88" y1="864.00" x2="527.88" y2="908.10" stroke="#0a0a0a" stroke-width="1.4" />
<line x1="682.32" y1="864.00" x2="682.32" y2="908.10" stroke="#0a0a0a" stroke-width="1.4" />
<line x1="219.00" y1="908.10" x2="219.00" y2="996.00" stroke="#0a0a0a" stroke-width="1.4" />
<line x1="270.48" y1="908.10" x2="270.48" y2="996.00" stroke="#0a0a0a" stroke-width="1.4" />
<line x1="321.96" y1="908.10" x2="321.96" y2="996.00" stroke="#0a0a0a" stroke-width="1.4" />
<line x1="373.44" y1="908.10" x2="373.44" y2="996.00" stroke="#0a0a0a" stroke-width="1.4" />
<line x1="424.92" y1="908.10" x2="424.92" y2="996.00" stroke="#0a0a0a" stroke-width="1.4" />
<line x1="476.40" y1="908.10" x2="476.40" y2="996.00" stroke="#0a0a0a" stroke-width="1.4" />
<line x1="527.88" y1="908.10" x2="527.88" y2="996.00" stroke="#0a0a0a" stroke-width="1.4" />
<line x1="579.36" y1="908.10" x2="579.36" y2="996.00" stroke="#0a0a0a" stroke-width="1.4" />
<line x1="630.84" y1="908.10" x2="630.84" y2="996.00" stroke="#0a0a0a" stroke-width="1.4" />
<line x1="682.32" y1="908.10" x2="682.32" y2="996.00" stroke="#0a0a0a" stroke-width="1.4" />
<text x="94.20" y="848.30" font-size="19.3" text-anchor="start" font-weight="normal" >h</text>
<text x="94.20" y="892.70" font-size="19.3" text-anchor="start" font-weight="normal" >Serum</text>
<text x="94.20" y="936.90" font-size="19.3" text-anchor="start" font-weight="normal" >Insulin</text>
<text x="94.20" y="981.50" font-size="19.3" text-anchor="start" font-weight="normal" >AICAR</text>
<text x="244.74" y="849.00" font-size="19" text-anchor="middle" font-weight="normal" >0</text>
<text x="373.44" y="849.00" font-size="19" text-anchor="middle" font-weight="normal" >3</text>
<text x="579.36" y="849.00" font-size="19" text-anchor="middle" font-weight="normal" >6</text>
<line x1="240.04" y1="886.50" x2="249.44" y2="886.50" stroke="#0a0a0a" stroke-width="1.7" />
<line x1="244.74" y1="881.80" x2="244.74" y2="891.20" stroke="#0a0a0a" stroke-width="1.7" />
<line x1="291.52" y1="886.50" x2="300.92" y2="886.50" stroke="#0a0a0a" stroke-width="1.7" />
<line x1="296.22" y1="881.80" x2="296.22" y2="891.20" stroke="#0a0a0a" stroke-width="1.7" />
<line x1="396.18" y1="887.90" x2="402.18" y2="887.90" stroke="#0a0a0a" stroke-width="1.9" />
<line x1="497.44" y1="886.50" x2="506.84" y2="886.50" stroke="#0a0a0a" stroke-width="1.7" />
<line x1="502.14" y1="881.80" x2="502.14" y2="891.20" stroke="#0a0a0a" stroke-width="1.7" />
<line x1="602.10" y1="887.90" x2="608.10" y2="887.90" stroke="#0a0a0a" stroke-width="1.9" />
<line x1="241.74" y1="932.00" x2="247.74" y2="932.00" stroke="#0a0a0a" stroke-width="1.9" />
<line x1="241.74" y1="976.20" x2="247.74" y2="976.20" stroke="#0a0a0a" stroke-width="1.9" />
<line x1="293.22" y1="932.00" x2="299.22" y2="932.00" stroke="#0a0a0a" stroke-width="1.9" />
<line x1="293.22" y1="976.20" x2="299.22" y2="976.20" stroke="#0a0a0a" stroke-width="1.9" />
<line x1="344.70" y1="932.00" x2="350.70" y2="932.00" stroke="#0a0a0a" stroke-width="1.9" />
<line x1="344.70" y1="976.20" x2="350.70" y2="976.20" stroke="#0a0a0a" stroke-width="1.9" />
<line x1="394.48" y1="930.60" x2="403.88" y2="930.60" stroke="#0a0a0a" stroke-width="1.7" />
<line x1="399.18" y1="925.90" x2="399.18" y2="935.30" stroke="#0a0a0a" stroke-width="1.7" />
<line x1="396.18" y1="976.20" x2="402.18" y2="976.20" stroke="#0a0a0a" stroke-width="1.9" />
<line x1="447.66" y1="932.00" x2="453.66" y2="932.00" stroke="#0a0a0a" stroke-width="1.9" />
<line x1="445.96" y1="974.80" x2="455.36" y2="974.80" stroke="#0a0a0a" stroke-width="1.7" />
<line x1="450.66" y1="970.10" x2="450.66" y2="979.50" stroke="#0a0a0a" stroke-width="1.7" />
<line x1="499.14" y1="932.00" x2="505.14" y2="932.00" stroke="#0a0a0a" stroke-width="1.9" />
<line x1="499.14" y1="976.20" x2="505.14" y2="976.20" stroke="#0a0a0a" stroke-width="1.9" />
<line x1="550.62" y1="932.00" x2="556.62" y2="932.00" stroke="#0a0a0a" stroke-width="1.9" />
<line x1="550.62" y1="976.20" x2="556.62" y2="976.20" stroke="#0a0a0a" stroke-width="1.9" />
<line x1="600.40" y1="930.60" x2="609.80" y2="930.60" stroke="#0a0a0a" stroke-width="1.7" />
<line x1="605.10" y1="925.90" x2="605.10" y2="935.30" stroke="#0a0a0a" stroke-width="1.7" />
<line x1="602.10" y1="976.20" x2="608.10" y2="976.20" stroke="#0a0a0a" stroke-width="1.9" />
<line x1="653.58" y1="932.00" x2="659.58" y2="932.00" stroke="#0a0a0a" stroke-width="1.9" />
<line x1="651.88" y1="974.80" x2="661.28" y2="974.80" stroke="#0a0a0a" stroke-width="1.7" />
<line x1="656.58" y1="970.10" x2="656.58" y2="979.50" stroke="#0a0a0a" stroke-width="1.7" />
<rect x="219.9" y="996.2" width="462.9" height="42.5" fill="rgb(222,222,222)"/>
<rect x="219.9" y="1038.7" width="463.2" height="43.1" fill="rgb(222,222,222)"/>
<rect x="219.9" y="1081.8" width="463.8" height="43.9" fill="rgb(221,221,221)"/>
<rect x="219.9" y="1125.7" width="464.7" height="43.4" fill="rgb(222,222,222)"/>
<rect x="219.7" y="1169.1" width="464.9" height="43.1" fill="rgb(220,220,220)"/>
<rect x="219.7" y="1212.2" width="464.6" height="43.9" fill="rgb(208,208,208)"/>
<rect x="220.5" y="1256.1" width="464.3" height="43.3" fill="rgb(220,220,220)"/>
<rect x="220.0" y="1299.4" width="465.1" height="42.9" fill="rgb(218,218,218)"/>
<rect x="221.0" y="1342.3" width="464.7" height="42.3" fill="rgb(222,222,222)"/>
<rect x="219.9" y="996" width="463.5" height="388" filter="url(#noise)"/>
<rect x="219.9" y="1212.2" width="464.4" height="43.9" filter="url(#noise2)"/>
<clipPath id="cp0"><rect x="219.9" y="996.2" width="462.9" height="42.5"/></clipPath>
<g clip-path="url(#cp0)">
<rect x="326.0" y="1006.2" width="41" height="14" rx="7.0" fill="#000" opacity="0.060" filter="url(#bh)"/>
<rect x="329.0" y="1009.2" width="35" height="8" rx="4.0" fill="#000" opacity="0.200" filter="url(#bc)"/>
<rect x="430.5" y="1005.0" width="39" height="17" rx="8.5" fill="#000" opacity="0.255" filter="url(#bh)"/>
<rect x="433.5" y="1008.0" width="33" height="11" rx="5.5" fill="#000" opacity="0.850" filter="url(#bc)"/>
<rect x="533.5" y="1005.1" width="37" height="13" rx="6.5" fill="#000" opacity="0.033" filter="url(#bh)"/>
<rect x="536.5" y="1008.1" width="31" height="7" rx="3.5" fill="#000" opacity="0.110" filter="url(#bc)"/>
<rect x="588.5" y="1005.5" width="29" height="11" rx="5.5" fill="#000" opacity="0.018" filter="url(#bh)"/>
<rect x="591.5" y="1008.5" width="23" height="5" rx="2.5" fill="#000" opacity="0.060" filter="url(#bc)"/>
<rect x="635.0" y="1000.8" width="41" height="20.5" rx="10.2" fill="#000" opacity="0.380" filter="url(#bh)"/>
<rect x="638.0" y="1003.8" width="35" height="14.5" rx="6.0" fill="#000" opacity="1.000" filter="url(#bc)"/>
<rect x="641.0" y="1006.2" width="29" height="9.5" rx="4.8" fill="#000" filter="url(#b1)"/>
</g>
<clipPath id="cp1"><rect x="219.9" y="1038.7" width="463.2" height="43.1"/></clipPath>
<g clip-path="url(#cp1)">
<rect x="382.8" y="1057.8" width="42" height="16.5" rx="8.2" fill="#000" opacity="0.380" filter="url(#bh)"/>
<rect x="385.8" y="1060.8" width="36" height="10.5" rx="5.2" fill="#000" opacity="1.000" filter="url(#bc)"/>
<rect x="388.8" y="1063.2" width="30" height="5.5" rx="2.8" fill="#000" filter="url(#b1)"/>
<rect x="588.4" y="1057.5" width="40" height="17" rx="8.5" fill="#000" opacity="0.380" filter="url(#bh)"/>
<rect x="591.4" y="1060.5" width="34" height="11" rx="5.5" fill="#000" opacity="1.000" filter="url(#bc)"/>
<rect x="594.4" y="1063.0" width="28" height="6" rx="3.0" fill="#000" filter="url(#b1)"/>
<rect x="222.5" y="1064.8" width="8" height="8.5" rx="4.2" fill="#000" opacity="0.075" filter="url(#bh)"/>
<rect x="225.5" y="1067.8" width="2" height="2.5" rx="1.2" fill="#000" opacity="0.250" filter="url(#bc)"/>
<rect x="391.3" y="1052.5" width="25" height="11" rx="5.5" fill="#000" opacity="0.036" filter="url(#bh)"/>
<rect x="394.3" y="1055.5" width="19" height="5" rx="2.5" fill="#000" opacity="0.120" filter="url(#bc)"/>
<rect x="594.5" y="1052.5" width="23" height="11" rx="5.5" fill="#000" opacity="0.042" filter="url(#bh)"/>
<rect x="597.5" y="1055.5" width="17" height="5" rx="2.5" fill="#000" opacity="0.140" filter="url(#bc)"/>
</g>
<clipPath id="cp2"><rect x="219.9" y="1081.8" width="463.8" height="43.9"/></clipPath>
<g clip-path="url(#cp2)">
<rect x="227.7" y="1099.0" width="40" height="12" rx="6.0" fill="#000" opacity="0.186" filter="url(#bh)"/>
<rect x="230.7" y="1102.0" width="34" height="6" rx="3.0" fill="#000" opacity="0.620" filter="url(#bc)"/>
<rect x="276.5" y="1098.0" width="39" height="13" rx="6.5" fill="#000" opacity="0.255" filter="url(#bh)"/>
<rect x="279.5" y="1101.0" width="33" height="7" rx="3.5" fill="#000" opacity="0.850" filter="url(#bc)"/>
<rect x="326.5" y="1099.0" width="39" height="12" rx="6.0" fill="#000" opacity="0.186" filter="url(#bh)"/>
<rect x="329.5" y="1102.0" width="33" height="6" rx="3.0" fill="#000" opacity="0.620" filter="url(#bc)"/>
<rect x="381.8" y="1099.5" width="40" height="12" rx="6.0" fill="#000" opacity="0.126" filter="url(#bh)"/>
<rect x="384.8" y="1102.5" width="34" height="6" rx="3.0" fill="#000" opacity="0.420" filter="url(#bc)"/>
<rect x="437.5" y="1100.5" width="37" height="11" rx="5.5" fill="#000" opacity="0.090" filter="url(#bh)"/>
<rect x="440.5" y="1103.5" width="31" height="5" rx="2.5" fill="#000" opacity="0.300" filter="url(#bc)"/>
<rect x="485.7" y="1098.6" width="40" height="12" rx="6.0" fill="#000" opacity="0.174" filter="url(#bh)"/>
<rect x="488.7" y="1101.6" width="34" height="6" rx="3.0" fill="#000" opacity="0.580" filter="url(#bc)"/>
<rect x="537.8" y="1098.0" width="41" height="12" rx="6.0" fill="#000" opacity="0.180" filter="url(#bh)"/>
<rect x="540.8" y="1101.0" width="35" height="6" rx="3.0" fill="#000" opacity="0.600" filter="url(#bc)"/>
<rect x="588.8" y="1095.0" width="41" height="13" rx="6.5" fill="#000" opacity="0.204" filter="url(#bh)" transform="rotate(-3 609.3 1101.5)"/>
<rect x="591.8" y="1098.0" width="35" height="7" rx="3.5" fill="#000" opacity="0.680" filter="url(#bc)" transform="rotate(-3 609.3 1101.5)"/>
<rect x="638.7" y="1094.5" width="37" height="11" rx="5.5" fill="#000" opacity="0.090" filter="url(#bh)" transform="rotate(-3 657.2 1100)"/>
<rect x="641.7" y="1097.5" width="31" height="5" rx="2.5" fill="#000" opacity="0.300" filter="url(#bc)" transform="rotate(-3 657.2 1100)"/>
</g>
<clipPath id="cp3"><rect x="219.9" y="1125.7" width="464.7" height="43.4"/></clipPath>
<g clip-path="url(#cp3)">
<rect x="220.5" y="1137.8" width="48" height="22" rx="11.0" fill="#000" opacity="0.380" filter="url(#bh)"/>
<rect x="223.5" y="1140.8" width="42" height="16" rx="6.0" fill="#000" opacity="1.000" filter="url(#bc)"/>
<rect x="226.5" y="1143.3" width="36" height="11" rx="5.5" fill="#000" filter="url(#b1)"/>
<rect x="277.5" y="1139.0" width="43" height="18" rx="9.0" fill="#000" opacity="0.380" filter="url(#bh)"/>
<rect x="280.5" y="1142.0" width="37" height="12" rx="6.0" fill="#000" opacity="1.000" filter="url(#bc)"/>
<rect x="283.5" y="1144.5" width="31" height="7" rx="3.5" fill="#000" filter="url(#b1)"/>
<rect x="328.7" y="1141.3" width="41" height="14.5" rx="7.2" fill="#000" opacity="0.270" filter="url(#bh)"/>
<rect x="331.7" y="1144.3" width="35" height="8.5" rx="4.2" fill="#000" opacity="0.900" filter="url(#bc)"/>
<rect x="382.8" y="1142.1" width="41" height="13" rx="6.5" fill="#000" opacity="0.195" filter="url(#bh)"/>
<rect x="385.8" y="1145.1" width="35" height="7" rx="3.5" fill="#000" opacity="0.650" filter="url(#bc)"/>
<rect x="438.5" y="1144.1" width="35" height="11" rx="5.5" fill="#000" opacity="0.090" filter="url(#bh)"/>
<rect x="441.5" y="1147.1" width="29" height="5" rx="2.5" fill="#000" opacity="0.300" filter="url(#bc)"/>
<rect x="484.8" y="1137.5" width="43" height="17.5" rx="8.8" fill="#000" opacity="0.380" filter="url(#bh)"/>
<rect x="487.8" y="1140.5" width="37" height="11.5" rx="5.8" fill="#000" opacity="1.000" filter="url(#bc)"/>
<rect x="490.8" y="1143.0" width="31" height="6.5" rx="3.2" fill="#000" filter="url(#b1)"/>
<rect x="536.9" y="1137.5" width="44" height="17.5" rx="8.8" fill="#000" opacity="0.380" filter="url(#bh)"/>
<rect x="539.9" y="1140.5" width="38" height="11.5" rx="5.8" fill="#000" opacity="1.000" filter="url(#bc)"/>
<rect x="542.9" y="1143.0" width="32" height="6.5" rx="3.2" fill="#000" filter="url(#b1)"/>
<rect x="589.3" y="1134.8" width="43" height="20" rx="10.0" fill="#000" opacity="0.380" filter="url(#bh)"/>
<rect x="592.3" y="1137.8" width="37" height="14" rx="6.0" fill="#000" opacity="1.000" filter="url(#bc)"/>
<rect x="595.3" y="1140.3" width="31" height="9" rx="4.5" fill="#000" filter="url(#b1)"/>
<rect x="640.7" y="1137.7" width="38" height="13" rx="6.5" fill="#000" opacity="0.204" filter="url(#bh)" transform="rotate(-3 659.7 1144.2)"/>
<rect x="643.7" y="1140.7" width="32" height="7" rx="3.5" fill="#000" opacity="0.680" filter="url(#bc)" transform="rotate(-3 659.7 1144.2)"/>
</g>
<clipPath id="cp4"><rect x="219.7" y="1169.1" width="464.9" height="43.1"/></clipPath>
<g clip-path="url(#cp4)">
<rect x="222.5" y="1180.0" width="49" height="24" rx="12.0" fill="#000" opacity="0.380" filter="url(#bh)"/>
<rect x="225.5" y="1183.0" width="43" height="18" rx="6.0" fill="#000" opacity="1.000" filter="url(#bc)"/>
<rect x="228.5" y="1185.5" width="37" height="13" rx="6.5" fill="#000" filter="url(#b1)"/>
<rect x="275.5" y="1181.5" width="48" height="21" rx="10.5" fill="#000" opacity="0.380" filter="url(#bh)"/>
<rect x="278.5" y="1184.5" width="42" height="15" rx="6.0" fill="#000" opacity="1.000" filter="url(#bc)"/>
<rect x="281.5" y="1187.0" width="36" height="10" rx="5.0" fill="#000" filter="url(#b1)"/>
<rect x="329.8" y="1183.0" width="45" height="19.5" rx="9.8" fill="#000" opacity="0.380" filter="url(#bh)"/>
<rect x="332.8" y="1186.0" width="39" height="13.5" rx="6.0" fill="#000" opacity="1.000" filter="url(#bc)"/>
<rect x="335.8" y="1188.5" width="33" height="8.5" rx="4.2" fill="#000" filter="url(#b1)"/>
<rect x="380.5" y="1181.2" width="46" height="21.5" rx="10.8" fill="#000" opacity="0.380" filter="url(#bh)"/>
<rect x="383.5" y="1184.2" width="40" height="15.5" rx="6.0" fill="#000" opacity="1.000" filter="url(#bc)"/>
<rect x="386.5" y="1186.8" width="34" height="10.5" rx="5.2" fill="#000" filter="url(#b1)"/>
<rect x="433.5" y="1181.2" width="43" height="17.5" rx="8.8" fill="#000" opacity="0.380" filter="url(#bh)"/>
<rect x="436.5" y="1184.2" width="37" height="11.5" rx="5.8" fill="#000" opacity="1.000" filter="url(#bc)"/>
<rect x="439.5" y="1186.8" width="31" height="6.5" rx="3.2" fill="#000" filter="url(#b1)"/>
<rect x="484.2" y="1179.5" width="43" height="18.5" rx="9.2" fill="#000" opacity="0.380" filter="url(#bh)"/>
<rect x="487.2" y="1182.5" width="37" height="12.5" rx="6.0" fill="#000" opacity="1.000" filter="url(#bc)"/>
<rect x="490.2" y="1185.0" width="31" height="7.5" rx="3.8" fill="#000" filter="url(#b1)"/>
<rect x="533.0" y="1177.4" width="45" height="20" rx="10.0" fill="#000" opacity="0.380" filter="url(#bh)"/>
<rect x="536.0" y="1180.4" width="39" height="14" rx="6.0" fill="#000" opacity="1.000" filter="url(#bc)"/>
<rect x="539.0" y="1182.9" width="33" height="9" rx="4.5" fill="#000" filter="url(#b1)"/>
<rect x="582.0" y="1173.7" width="49" height="24" rx="12.0" fill="#000" opacity="0.380" filter="url(#bh)"/>
<rect x="585.0" y="1176.7" width="43" height="18" rx="6.0" fill="#000" opacity="1.000" filter="url(#bc)"/>
<rect x="588.0" y="1179.2" width="37" height="13" rx="6.5" fill="#000" filter="url(#b1)"/>
<rect x="632.8" y="1172.5" width="44" height="21" rx="10.5" fill="#000" opacity="0.380" filter="url(#bh)"/>
<rect x="635.8" y="1175.5" width="38" height="15" rx="6.0" fill="#000" opacity="1.000" filter="url(#bc)"/>
<rect x="638.8" y="1178.0" width="32" height="10" rx="5.0" fill="#000" filter="url(#b1)"/>
</g>
<clipPath id="cp5"><rect x="219.7" y="1212.2" width="464.6" height="43.9"/></clipPath>
<g clip-path="url(#cp5)">
<rect x="227.0" y="1229.8" width="38" height="11.5" rx="5.8" fill="#000" opacity="0.078" filter="url(#bh)"/>
<rect x="230.0" y="1232.8" width="32" height="5.5" rx="2.8" fill="#000" opacity="0.260" filter="url(#bc)"/>
<rect x="275.5" y="1230.2" width="43" height="12.5" rx="6.2" fill="#000" opacity="0.126" filter="url(#bh)"/>
<rect x="278.5" y="1233.2" width="37" height="6.5" rx="3.2" fill="#000" opacity="0.420" filter="url(#bc)"/>
<rect x="329.5" y="1231.0" width="41" height="12" rx="6.0" fill="#000" opacity="0.108" filter="url(#bh)"/>
<rect x="332.5" y="1234.0" width="35" height="6" rx="3.0" fill="#000" opacity="0.360" filter="url(#bc)"/>
<rect x="381.5" y="1230.0" width="41" height="12" rx="6.0" fill="#000" opacity="0.108" filter="url(#bh)"/>
<rect x="384.5" y="1233.0" width="35" height="6" rx="3.0" fill="#000" opacity="0.360" filter="url(#bc)"/>
<rect x="434.5" y="1228.0" width="41" height="12" rx="6.0" fill="#000" opacity="0.108" filter="url(#bh)"/>
<rect x="437.5" y="1231.0" width="35" height="6" rx="3.0" fill="#000" opacity="0.360" filter="url(#bc)"/>
<rect x="485.5" y="1225.8" width="41" height="11.5" rx="5.8" fill="#000" opacity="0.102" filter="url(#bh)"/>
<rect x="488.5" y="1228.8" width="35" height="5.5" rx="2.8" fill="#000" opacity="0.340" filter="url(#bc)"/>
<rect x="536.5" y="1224.2" width="43" height="12.5" rx="6.2" fill="#000" opacity="0.126" filter="url(#bh)"/>
<rect x="539.5" y="1227.2" width="37" height="6.5" rx="3.2" fill="#000" opacity="0.420" filter="url(#bc)"/>
<rect x="588.0" y="1222.8" width="42" height="13.5" rx="6.8" fill="#000" opacity="0.144" filter="url(#bh)"/>
<rect x="591.0" y="1225.8" width="36" height="7.5" rx="3.8" fill="#000" opacity="0.480" filter="url(#bc)"/>
<rect x="636.5" y="1222.8" width="41" height="12.5" rx="6.2" fill="#000" opacity="0.126" filter="url(#bh)"/>
<rect x="639.5" y="1225.8" width="35" height="6.5" rx="3.2" fill="#000" opacity="0.420" filter="url(#bc)"/>
</g>
<clipPath id="cp6"><rect x="220.5" y="1256.1" width="464.3" height="43.3"/></clipPath>
<g clip-path="url(#cp6)">
<rect x="224.6" y="1266.9" width="42" height="17" rx="8.5" fill="#000" opacity="0.090" filter="url(#bh)"/>
<rect x="227.6" y="1269.9" width="36" height="11" rx="5.5" fill="#000" opacity="0.300" filter="url(#bc)"/>
<rect x="273.0" y="1276.0" width="44" height="17.5" rx="8.8" fill="#000" opacity="0.078" filter="url(#bh)" transform="rotate(4 295 1284.7)"/>
<rect x="276.0" y="1279.0" width="38" height="11.5" rx="5.8" fill="#000" opacity="0.260" filter="url(#bc)" transform="rotate(4 295 1284.7)"/>
<rect x="328.7" y="1277.2" width="44" height="16.5" rx="8.2" fill="#000" opacity="0.078" filter="url(#bh)" transform="rotate(-3 350.7 1285.5)"/>
<rect x="331.7" y="1280.2" width="38" height="10.5" rx="5.2" fill="#000" opacity="0.260" filter="url(#bc)" transform="rotate(-3 350.7 1285.5)"/>
<rect x="378.2" y="1276.0" width="44" height="17.5" rx="8.8" fill="#000" opacity="0.108" filter="url(#bh)"/>
<rect x="381.2" y="1279.0" width="38" height="11.5" rx="5.8" fill="#000" opacity="0.360" filter="url(#bc)"/>
<rect x="434.5" y="1276.2" width="41" height="16.5" rx="8.2" fill="#000" opacity="0.090" filter="url(#bh)"/>
<rect x="437.5" y="1279.2" width="35" height="10.5" rx="5.2" fill="#000" opacity="0.300" filter="url(#bc)"/>
<rect x="485.6" y="1272.3" width="42" height="16.5" rx="8.2" fill="#000" opacity="0.102" filter="url(#bh)" transform="rotate(-3 506.6 1280.6)"/>
<rect x="488.6" y="1275.3" width="36" height="10.5" rx="5.2" fill="#000" opacity="0.340" filter="url(#bc)" transform="rotate(-3 506.6 1280.6)"/>
<rect x="534.2" y="1271.2" width="45" height="17.5" rx="8.8" fill="#000" opacity="0.126" filter="url(#bh)"/>
<rect x="537.2" y="1274.2" width="39" height="11.5" rx="5.8" fill="#000" opacity="0.420" filter="url(#bc)"/>
<rect x="586.3" y="1270.2" width="46" height="18.5" rx="9.2" fill="#000" opacity="0.156" filter="url(#bh)" transform="rotate(-2 609.3 1279.4)"/>
<rect x="589.3" y="1273.2" width="40" height="12.5" rx="6.0" fill="#000" opacity="0.520" filter="url(#bc)" transform="rotate(-2 609.3 1279.4)"/>
<rect x="638.8" y="1269.9" width="43" height="16" rx="8.0" fill="#000" opacity="0.084" filter="url(#bh)" transform="rotate(-3 660.3 1277.9)"/>
<rect x="641.8" y="1272.9" width="37" height="10" rx="5.0" fill="#000" opacity="0.280" filter="url(#bc)" transform="rotate(-3 660.3 1277.9)"/>
</g>
<clipPath id="cp7"><rect x="220.0" y="1299.4" width="465.1" height="42.9"/></clipPath>
<g clip-path="url(#cp7)">
<rect x="225.0" y="1310.3" width="45" height="19" rx="9.5" fill="#000" opacity="0.380" filter="url(#bh)"/>
<rect x="228.0" y="1313.3" width="39" height="13" rx="6.0" fill="#000" opacity="1.000" filter="url(#bc)"/>
<rect x="231.0" y="1315.8" width="33" height="8" rx="4.0" fill="#000" filter="url(#b1)"/>
<rect x="227.5" y="1306.5" width="20" height="14" rx="7.0" fill="#000" opacity="0.270" filter="url(#bh)"/>
<rect x="230.5" y="1309.5" width="14" height="8" rx="4.0" fill="#000" opacity="0.900" filter="url(#bc)"/>
<rect x="248.0" y="1307.0" width="20" height="14" rx="7.0" fill="#000" opacity="0.270" filter="url(#bh)"/>
<rect x="251.0" y="1310.0" width="14" height="8" rx="4.0" fill="#000" opacity="0.900" filter="url(#bc)"/>
<rect x="276.0" y="1313.0" width="27" height="19" rx="9.5" fill="#000" opacity="0.276" filter="url(#bh)"/>
<rect x="279.0" y="1316.0" width="21" height="13" rx="6.0" fill="#000" opacity="0.920" filter="url(#bc)"/>
<rect x="293.5" y="1318.3" width="27" height="15" rx="7.5" fill="#000" opacity="0.216" filter="url(#bh)" transform="rotate(8 307 1325.8)"/>
<rect x="296.5" y="1321.3" width="21" height="9" rx="4.5" fill="#000" opacity="0.720" filter="url(#bc)" transform="rotate(8 307 1325.8)"/>
<rect x="277.5" y="1316.0" width="41" height="14" rx="7.0" fill="#000" opacity="0.150" filter="url(#bh)" transform="rotate(6 298 1323)"/>
<rect x="280.5" y="1319.0" width="35" height="8" rx="4.0" fill="#000" opacity="0.500" filter="url(#bc)" transform="rotate(6 298 1323)"/>
<rect x="333.0" y="1320.5" width="21" height="15" rx="7.5" fill="#000" opacity="0.270" filter="url(#bh)"/>
<rect x="336.0" y="1323.5" width="15" height="9" rx="4.5" fill="#000" opacity="0.900" filter="url(#bc)"/>
<rect x="348.0" y="1321.5" width="24" height="13" rx="6.5" fill="#000" opacity="0.186" filter="url(#bh)"/>
<rect x="351.0" y="1324.5" width="18" height="7" rx="3.5" fill="#000" opacity="0.620" filter="url(#bc)"/>
<rect x="336.5" y="1316.5" width="31" height="13" rx="6.5" fill="#000" opacity="0.096" filter="url(#bh)"/>
<rect x="339.5" y="1319.5" width="25" height="7" rx="3.5" fill="#000" opacity="0.320" filter="url(#bc)"/>
<rect x="384.0" y="1317.5" width="25" height="16" rx="8.0" fill="#000" opacity="0.276" filter="url(#bh)"/>
<rect x="387.0" y="1320.5" width="19" height="10" rx="5.0" fill="#000" opacity="0.920" filter="url(#bc)"/>
<rect x="401.0" y="1318.5" width="24" height="14" rx="7.0" fill="#000" opacity="0.216" filter="url(#bh)"/>
<rect x="404.0" y="1321.5" width="18" height="8" rx="4.0" fill="#000" opacity="0.720" filter="url(#bc)"/>
<rect x="386.5" y="1316.0" width="35" height="12" rx="6.0" fill="#000" opacity="0.090" filter="url(#bh)"/>
<rect x="389.5" y="1319.0" width="29" height="6" rx="3.0" fill="#000" opacity="0.300" filter="url(#bc)"/>
<rect x="462.0" y="1314.0" width="13" height="18" rx="9.0" fill="#000" opacity="0.102" filter="url(#bh)"/>
<rect x="465.0" y="1317.0" width="7" height="12" rx="6.0" fill="#000" opacity="0.340" filter="url(#bc)"/>
<rect x="448.5" y="1321.5" width="19" height="11" rx="5.5" fill="#000" opacity="0.045" filter="url(#bh)"/>
<rect x="451.5" y="1324.5" width="13" height="5" rx="2.5" fill="#000" opacity="0.150" filter="url(#bc)"/>
<rect x="502.5" y="1314.8" width="27" height="18" rx="9.0" fill="#000" opacity="0.380" filter="url(#bh)"/>
<rect x="505.5" y="1317.8" width="21" height="12" rx="6.0" fill="#000" opacity="1.000" filter="url(#bc)"/>
<rect x="508.5" y="1320.3" width="15" height="7" rx="3.5" fill="#000" filter="url(#b1)"/>
<rect x="489.0" y="1316.5" width="23" height="16" rx="8.0" fill="#000" opacity="0.255" filter="url(#bh)"/>
<rect x="492.0" y="1319.5" width="17" height="10" rx="5.0" fill="#000" opacity="0.850" filter="url(#bc)"/>
<rect x="490.5" y="1312.5" width="35" height="13" rx="6.5" fill="#000" opacity="0.150" filter="url(#bh)"/>
<rect x="493.5" y="1315.5" width="29" height="7" rx="3.5" fill="#000" opacity="0.500" filter="url(#bc)"/>
<rect x="535.5" y="1309.5" width="25" height="22" rx="11.0" fill="#000" opacity="0.380" filter="url(#bh)"/>
<rect x="538.5" y="1312.5" width="19" height="16" rx="6.0" fill="#000" opacity="1.000" filter="url(#bc)"/>
<rect x="541.5" y="1315.0" width="13" height="11" rx="5.5" fill="#000" filter="url(#b1)"/>
<rect x="553.5" y="1310.5" width="25" height="21" rx="10.5" fill="#000" opacity="0.380" filter="url(#bh)"/>
<rect x="556.5" y="1313.5" width="19" height="15" rx="6.0" fill="#000" opacity="1.000" filter="url(#bc)"/>
<rect x="559.5" y="1316.0" width="13" height="10" rx="5.0" fill="#000" filter="url(#b1)"/>
<rect x="537.0" y="1316.5" width="39" height="15" rx="7.5" fill="#000" opacity="0.380" filter="url(#bh)"/>
<rect x="540.0" y="1319.5" width="33" height="9" rx="4.5" fill="#000" opacity="1.000" filter="url(#bc)"/>
<rect x="543.0" y="1322.0" width="27" height="4" rx="2.0" fill="#000" filter="url(#b1)"/>
<rect x="587.5" y="1307.0" width="25" height="24" rx="12.0" fill="#000" opacity="0.380" filter="url(#bh)"/>
<rect x="590.5" y="1310.0" width="19" height="18" rx="6.0" fill="#000" opacity="1.000" filter="url(#bc)"/>
<rect x="593.5" y="1312.5" width="13" height="13" rx="6.5" fill="#000" filter="url(#b1)"/>
<rect x="605.5" y="1315.0" width="25" height="17" rx="8.5" fill="#000" opacity="0.285" filter="url(#bh)"/>
<rect x="608.5" y="1318.0" width="19" height="11" rx="5.5" fill="#000" opacity="0.950" filter="url(#bc)"/>
<rect x="589.5" y="1318.0" width="39" height="14" rx="7.0" fill="#000" opacity="0.380" filter="url(#bh)"/>
<rect x="592.5" y="1321.0" width="33" height="8" rx="4.0" fill="#000" opacity="1.000" filter="url(#bc)"/>
<rect x="640.5" y="1313.5" width="19" height="18" rx="9.0" fill="#000" opacity="0.285" filter="url(#bh)"/>
<rect x="643.5" y="1316.5" width="13" height="12" rx="6.0" fill="#000" opacity="0.950" filter="url(#bc)"/>
<rect x="652.5" y="1318.5" width="27" height="14" rx="7.0" fill="#000" opacity="0.225" filter="url(#bh)"/>
<rect x="655.5" y="1321.5" width="21" height="8" rx="4.0" fill="#000" opacity="0.750" filter="url(#bc)"/>
<rect x="641.5" y="1313.5" width="33" height="13" rx="6.5" fill="#000" opacity="0.120" filter="url(#bh)"/>
<rect x="644.5" y="1316.5" width="27" height="7" rx="3.5" fill="#000" opacity="0.400" filter="url(#bc)"/>
</g>
<clipPath id="cp8"><rect x="221.0" y="1342.3" width="464.7" height="42.3"/></clipPath>
<g clip-path="url(#cp8)">
<rect x="224.6" y="1354.9" width="42" height="11" rx="5.5" fill="#000" opacity="0.096" filter="url(#bh)"/>
<rect x="227.6" y="1357.9" width="36" height="5" rx="2.5" fill="#000" opacity="0.320" filter="url(#bc)"/>
<rect x="273.0" y="1359.5" width="44" height="11" rx="5.5" fill="#000" opacity="0.174" filter="url(#bh)" transform="rotate(2 295 1365)"/>
<rect x="276.0" y="1362.5" width="38" height="5" rx="2.5" fill="#000" opacity="0.580" filter="url(#bc)" transform="rotate(2 295 1365)"/>
<rect x="325.6" y="1361.1" width="44" height="11" rx="5.5" fill="#000" opacity="0.174" filter="url(#bh)"/>
<rect x="328.6" y="1364.1" width="38" height="5" rx="2.5" fill="#000" opacity="0.580" filter="url(#bc)"/>
<rect x="378.7" y="1361.2" width="43" height="11.5" rx="5.8" fill="#000" opacity="0.150" filter="url(#bh)"/>
<rect x="381.7" y="1364.2" width="37" height="5.5" rx="2.8" fill="#000" opacity="0.500" filter="url(#bc)"/>
<rect x="434.0" y="1362.0" width="42" height="11" rx="5.5" fill="#000" opacity="0.165" filter="url(#bh)"/>
<rect x="437.0" y="1365.0" width="36" height="5" rx="2.5" fill="#000" opacity="0.550" filter="url(#bc)"/>
<rect x="484.0" y="1360.8" width="42" height="11.5" rx="5.8" fill="#000" opacity="0.174" filter="url(#bh)" transform="rotate(-2 505 1366.5)"/>
<rect x="487.0" y="1363.8" width="36" height="5.5" rx="2.8" fill="#000" opacity="0.580" filter="url(#bc)" transform="rotate(-2 505 1366.5)"/>
<rect x="533.0" y="1359.2" width="44" height="11.5" rx="5.8" fill="#000" opacity="0.174" filter="url(#bh)" transform="rotate(-2 555 1365)"/>
<rect x="536.0" y="1362.2" width="38" height="5.5" rx="2.8" fill="#000" opacity="0.580" filter="url(#bc)" transform="rotate(-2 555 1365)"/>
<rect x="585.7" y="1357.5" width="44" height="12" rx="6.0" fill="#000" opacity="0.192" filter="url(#bh)" transform="rotate(-2 607.7 1363.5)"/>
<rect x="588.7" y="1360.5" width="38" height="6" rx="3.0" fill="#000" opacity="0.640" filter="url(#bc)" transform="rotate(-2 607.7 1363.5)"/>
<rect x="637.8" y="1357.5" width="42" height="10.5" rx="5.2" fill="#000" opacity="0.150" filter="url(#bh)" transform="rotate(-3 658.8 1362.8)"/>
<rect x="640.8" y="1360.5" width="36" height="4.5" rx="2.2" fill="#000" opacity="0.500" filter="url(#bc)" transform="rotate(-3 658.8 1362.8)"/>
</g>
<rect x="219.9" y="996.2" width="462.9" height="42.5" fill="none" stroke="#0a0a0a" stroke-width="1.6"/>
<line x1="271.70" y1="996.20" x2="271.70" y2="1038.70" stroke="#0a0a0a" stroke-width="2.1" />
<text x="94.5" y="1026.0" font-size="19.3">p-ACC<tspan font-size="12.8" dx="0.8" dy="-10">S222</tspan></text>
<rect x="219.9" y="1038.7" width="463.2" height="43.1" fill="none" stroke="#0a0a0a" stroke-width="1.6"/>
<line x1="271.70" y1="1038.70" x2="271.70" y2="1081.80" stroke="#0a0a0a" stroke-width="2.1" />
<text x="94.5" y="1069.6" font-size="19.3">p-PKB<tspan font-size="12.8" dx="0.8" dy="-10">T308</tspan></text>
<rect x="219.9" y="1081.8" width="463.8" height="43.9" fill="none" stroke="#0a0a0a" stroke-width="1.6"/>
<line x1="272.20" y1="1081.80" x2="272.20" y2="1125.70" stroke="#0a0a0a" stroke-width="1.7" />
<text x="94.5" y="1113.7" font-size="19.3">p-FAK<tspan font-size="12.8" dx="0.8" dy="-10">Y397</tspan></text>
<rect x="219.9" y="1125.7" width="464.7" height="43.4" fill="none" stroke="#0a0a0a" stroke-width="1.6"/>
<line x1="272.20" y1="1125.70" x2="272.20" y2="1169.10" stroke="#0a0a0a" stroke-width="1.7" />
<text x="94.5" y="1157.9" font-size="19.3">p-Paxillin<tspan font-size="12.8" dx="0.8" dy="-10">Y118</tspan></text>
<rect x="219.7" y="1169.1" width="464.9" height="43.1" fill="none" stroke="#0a0a0a" stroke-width="1.6"/>
<line x1="272.70" y1="1169.10" x2="272.70" y2="1212.20" stroke="#0a0a0a" stroke-width="1.7" />
<text x="94.50" y="1202.20" font-size="19.3" text-anchor="start" font-weight="normal" >ACC</text>
<rect x="219.7" y="1212.2" width="464.6" height="43.9" fill="none" stroke="#0a0a0a" stroke-width="1.6"/>
<line x1="272.70" y1="1212.20" x2="272.70" y2="1256.10" stroke="#0a0a0a" stroke-width="1.7" />
<text x="94.50" y="1246.30" font-size="19.3" text-anchor="start" font-weight="normal" >PKB</text>
<rect x="220.5" y="1256.1" width="464.3" height="43.3" fill="none" stroke="#0a0a0a" stroke-width="1.6"/>
<line x1="271.50" y1="1256.10" x2="271.50" y2="1299.40" stroke="#0a0a0a" stroke-width="1.7" />
<text x="94.50" y="1290.60" font-size="19.3" text-anchor="start" font-weight="normal" >FAK</text>
<rect x="220.0" y="1299.4" width="465.1" height="42.9" fill="none" stroke="#0a0a0a" stroke-width="1.6"/>
<line x1="271.40" y1="1299.40" x2="271.40" y2="1342.30" stroke="#0a0a0a" stroke-width="1.7" />
<text x="94.50" y="1335.00" font-size="19.3" text-anchor="start" font-weight="normal" >Paxillin</text>
<rect x="221.0" y="1342.3" width="464.7" height="42.3" fill="none" stroke="#0a0a0a" stroke-width="1.6"/>
<line x1="271.40" y1="1342.30" x2="271.40" y2="1384.60" stroke="#0a0a0a" stroke-width="1.7" />
<text x="94.50" y="1379.10" font-size="19.3" text-anchor="start" font-weight="normal" >GAPDH</text>
</svg></body></html>
